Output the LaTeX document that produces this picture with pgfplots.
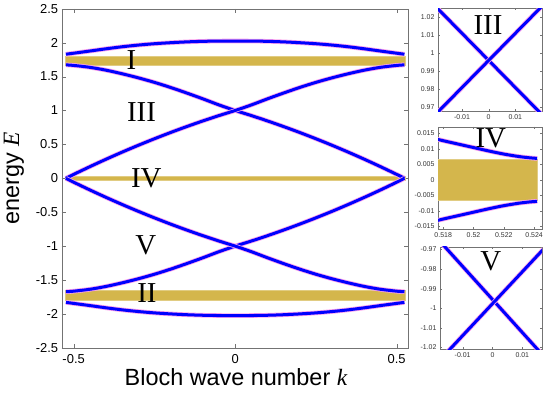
\documentclass[border=0pt]{standalone}
\usepackage{fontspec}
\setmainfont{Liberation Sans}
\newfontfamily\tms{Liberation Serif}
\usepackage{pgfplots}
\usepackage{pgfplotstable}
\pgfplotsset{compat=1.18}

\definecolor{band}{RGB}{212,182,76}
\definecolor{halo}{RGB}{250,160,235}
\definecolor{frame}{RGB}{115,115,115}

% band structure
\pgfplotstableread{
k      top    c2      c3      c4      c5      bot
-0.524 1.830  1.673   0.000  -1.673   0.000  -1.830
-0.5   1.845  1.665   0.0575 -1.665  -0.0575 -1.845
-0.45  1.877  1.637   0.1713 -1.637  -0.1713 -1.877
-0.4   1.910  1.595   0.2808 -1.595  -0.2808 -1.910
-0.35  1.940  1.542   0.3859 -1.542  -0.3859 -1.940
-0.3   1.965  1.482   0.4867 -1.482  -0.4867 -1.965
-0.25  1.985  1.415   0.5831 -1.415  -0.5831 -1.985
-0.2   2.000  1.340   0.6752 -1.340  -0.6752 -2.000
-0.15  2.012  1.258   0.7629 -1.258  -0.7629 -2.012
-0.1   2.020  1.172   0.8463 -1.172  -0.8463 -2.020
-0.05  2.024  1.082   0.9253 -1.082  -0.9253 -2.024
0      2.025  1.000   1.000  -1.000  -1.000  -2.025
0.05   2.024  0.9253  1.082  -0.9253 -1.082  -2.024
0.1    2.020  0.8463  1.172  -0.8463 -1.172  -2.020
0.15   2.012  0.7629  1.258  -0.7629 -1.258  -2.012
0.2    2.000  0.6752  1.340  -0.6752 -1.340  -2.000
0.25   1.985  0.5831  1.415  -0.5831 -1.415  -1.985
0.3    1.965  0.4867  1.482  -0.4867 -1.482  -1.965
0.35   1.940  0.3859  1.542  -0.3859 -1.542  -1.940
0.4    1.910  0.2808  1.595  -0.2808 -1.595  -1.910
0.45   1.877  0.1713  1.637  -0.1713 -1.637  -1.877
0.5    1.845  0.0575  1.665  -0.0575 -1.665  -1.845
0.524  1.830  0.000   1.673   0.000  -1.673  -1.830
}\bands

% edge of band IV (zoom)
\pgfplotstableread{
k       up      dn
0.5175  0.0132 -0.0132
0.5180  0.0126 -0.0126
0.5190  0.0115 -0.0115
0.5200  0.0104 -0.0104
0.5210  0.0093 -0.0093
0.5220  0.0083 -0.0083
0.5230  0.0075 -0.0075
0.5237  0.0071 -0.0071
0.5242  0.0069 -0.0069
}\edge

\pgfplotsset{
  halocurve/.style={halo, line width=4.6bp, no marks},
  bluecurve/.style={blue, line width=3bp, no marks},
  mat/.style={
    scale only axis, anchor=south west,
    axis line style={frame}, tick style={frame},
    tick align=inside,
    /pgf/number format/assume math mode=true,
    scaled ticks=false,
  },
  inset/.style={
    mat, major tick length=2bp,
    tick label style={font=\fontsize{7}{7}\selectfont, black!80},
    /pgf/number format/fixed, /pgf/number format/precision=3,
  },
}
\newcommand\curve[1]{%
  \addplot[halocurve, smooth] table[x=k, y=#1] {\bands};
  \addplot[bluecurve, smooth] table[x=k, y=#1] {\bands};
}
\newcommand\bandlabel{\fontsize{29}{29}\tms\selectfont}

\begin{document}
\begin{tikzpicture}
\path[use as bounding box] (0bp,-397bp) rectangle (548bp,0bp);

% main panel
\begin{axis}[
  mat,
  at={(61.7bp,-347.8bp)},
  width=346.3bp, height=339bp,
  xmin=-0.537, xmax=0.535,
  ymin=-2.5, ymax=2.5,
  xtick={-0.5,0,0.5},
  ytick={-2.5,-2,-1.5,-1,-0.5,0,0.5,1,1.5,2,2.5},
  major tick length=4bp,
  tick label style={font=\fontsize{13}{13}\selectfont},
  xticklabel style={yshift=-3bp},
]
\addplot[fill=band, draw=band!70!white, line width=0.8bp] coordinates {(-0.526,1.66) (0.526,1.66) (0.526,1.805) (-0.526,1.805)} -- cycle;
\addplot[fill=band, draw=band!70!white, line width=0.8bp] coordinates {(-0.526,-1.66) (0.526,-1.66) (0.526,-1.805) (-0.526,-1.805)} -- cycle;
\addplot[fill=band, draw=band!70!white, line width=0.6bp] coordinates {(-0.526,-0.028) (0.526,-0.028) (0.526,0.028) (-0.526,0.028)} -- cycle;
\curve{top}
\curve{c2}
\curve{c3}
\curve{c4}
\curve{c5}
\curve{bot}
\node[font=\bandlabel] at (axis cs:-0.321,1.745) {I};
\node[font=\bandlabel] at (axis cs:-0.290,0.98) {III};
\node[font=\bandlabel] at (axis cs:-0.275,0.0) {IV};
\node[font=\bandlabel] at (axis cs:-0.277,-0.994) {V};
\node[font=\bandlabel] at (axis cs:-0.273,-1.696) {II};
\end{axis}

\node[font=\fontsize{23.5}{23.5}\selectfont] at (236bp,-377bp) {Bloch wave number {\tms\itshape k}};
\node[font=\fontsize{23.5}{23.5}\selectfont, rotate=90] at (14bp,-178bp) {energy {\tms\itshape E}};

% inset III
\begin{axis}[
  inset,
  at={(438bp,-111bp)},
  width=104bp, height=103bp,
  xmin=-0.019, xmax=0.020,
  ymin=0.968, ymax=1.025,
  xtick={-0.01,0,0.01},
  ytick={0.97,0.98,0.99,1,1.01,1.02},
]
\addplot[halocurve] coordinates {(-0.021,1.0275) (0.021,0.9645)};
\addplot[bluecurve] coordinates {(-0.021,1.0275) (0.021,0.9645)};
\addplot[halocurve] coordinates {(-0.021,0.9645) (0.021,1.0275)};
\addplot[bluecurve] coordinates {(-0.021,0.9645) (0.021,1.0275)};
\end{axis}
\node[font=\bandlabel] at (488bp,-25bp) {III};

% inset IV
\begin{axis}[
  inset,
  at={(438bp,-229.3bp)},
  width=104bp, height=102.6bp,
  xmin=0.51766, xmax=0.52452,
  ymin=-0.0159, ymax=0.0171,
  xtick={0.518,0.52,0.522,0.524},
  ytick={-0.015,-0.01,-0.005,0,0.005,0.01,0.015},
]
\addplot[fill=band, draw=band!70!white, line width=0.6bp] coordinates {(0.5176,-0.0066) (0.5242,-0.0066) (0.5242,0.0066) (0.5176,0.0066)} -- cycle;
\addplot[halocurve, smooth] table[x=k, y=up] {\edge};
\addplot[bluecurve, smooth] table[x=k, y=up] {\edge};
\addplot[halocurve, smooth] table[x=k, y=dn] {\edge};
\addplot[bluecurve, smooth] table[x=k, y=dn] {\edge};
\end{axis}
\node[font=\bandlabel] at (490.8bp,-138.3bp) {IV};

% inset V
\begin{axis}[
  inset,
  at={(440bp,-349bp)},
  width=102bp, height=102bp,
  xmin=-0.0176, xmax=0.0166,
  ymin=-1.0208, ymax=-0.9687,
  xtick={-0.01,0,0.01},
  ytick={-1.02,-1.01,-1,-0.99,-0.98,-0.97},
]
\addplot[halocurve] coordinates {(-0.018,-0.96516) (0.017,-1.02417)};
\addplot[bluecurve] coordinates {(-0.018,-0.96516) (0.017,-1.02417)};
\addplot[halocurve] coordinates {(-0.018,-1.02699) (0.018,-0.96831)};
\addplot[bluecurve] coordinates {(-0.018,-1.02699) (0.018,-0.96831)};
\end{axis}
\node[font=\bandlabel] at (490.8bp,-261.7bp) {V};
\end{tikzpicture}
\end{document}
